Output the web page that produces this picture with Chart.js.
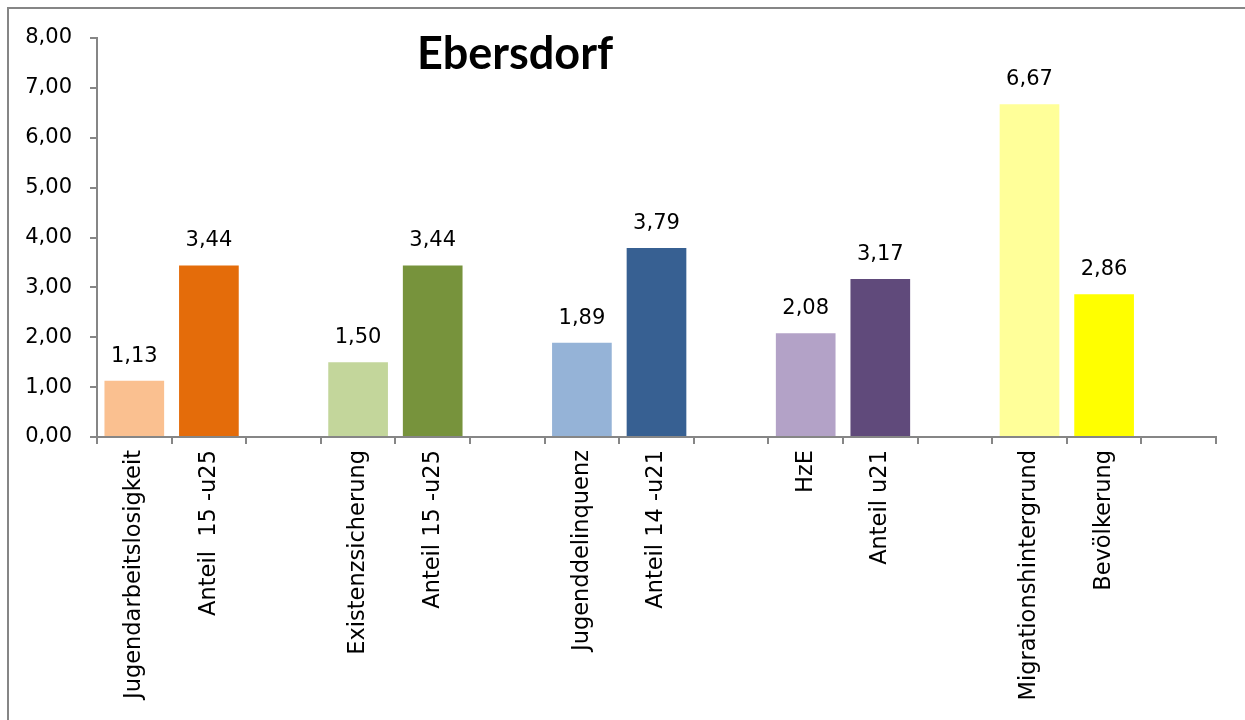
<!DOCTYPE html>
<html>
<head>
<meta charset="utf-8">
<script src="https://cdn.jsdelivr.net/npm/chart.js@4"></script>
<style>
  html, body { margin: 0; padding: 0; background: #fff; overflow: hidden; }
  #wrap { position: relative; width: 1245px; height: 720px; }
  #frame { position: absolute; left: 7px; top: 7px; width: 1300px; height: 800px;
           border-left: 2px solid #868686; border-top: 2px solid #868686; }
  canvas { position: absolute; left: 0; top: 0; }
</style>
</head>
<body>
<div id="wrap">
  <div id="frame"></div>
  <canvas id="chart" width="1245" height="720"></canvas>
</div>
<script>
// Categories (empty slots are the gaps between groups)
const categories = [
  'Jugendarbeitslosigkeit', 'Anteil  15 -u25', '',
  'Existenzsicherung', 'Anteil 15 -u25', '',
  'Jugenddelinquenz', 'Anteil 14 -u21', '',
  'HzE', 'Anteil u21', '',
  'Migrationshintergrund', 'Bevölkerung', ''
];
const values = [1.13, 3.44, null, 1.50, 3.44, null, 1.89, 3.79, null, 2.08, 3.17, null, 6.67, 2.86, null];
const barColors = [
  '#FAC090', '#E46C0A', '#fff',
  '#C3D69B', '#77933C', '#fff',
  '#95B3D7', '#376092', '#fff',
  '#B3A2C7', '#604A7B', '#fff',
  '#FFFF99', '#FFFF00', '#fff'
];
const title = 'Ebersdorf';

const fontFamily = '"DejaVu Sans", sans-serif';
const fmt = v => v.toFixed(2).replace('.', ',');

// value labels above the bars
const valueLabels = {
  id: 'valueLabels',
  afterDatasetsDraw(chart) {
    const ctx = chart.ctx;
    const meta = chart.getDatasetMeta(0);
    ctx.save();
    ctx.font = '21px ' + fontFamily;
    ctx.fillStyle = '#000';
    ctx.textAlign = 'center';
    ctx.textBaseline = 'alphabetic';
    meta.data.forEach((bar, i) => {
      if (values[i] == null) return;
      ctx.fillText(fmt(values[i]), bar.x, bar.y - 19);
    });
    ctx.restore();
  }
};

// title drawn inside the plot area
const titlePlugin = {
  id: 'titleInside',
  afterDraw(chart) {
    const ctx = chart.ctx;
    ctx.save();
    ctx.font = 'bold 45px Lato, sans-serif';
    ctx.fillStyle = '#000';
    ctx.textAlign = 'center';
    ctx.textBaseline = 'alphabetic';
    ctx.fillText(title, 515, 69);
    ctx.restore();
  }
};

new Chart(document.getElementById('chart'), {
  type: 'bar',
  data: {
    labels: categories,
    datasets: [{
      data: values,
      backgroundColor: barColors,
      barPercentage: 0.8,
      categoryPercentage: 1.0
    }]
  },
  options: {
    responsive: false,
    animation: false,
    layout: { padding: { top: 38, right: 29, left: 0, bottom: 0 } },
    plugins: { legend: { display: false }, tooltip: { enabled: false } },
    scales: {
      x: {
        grid: { drawOnChartArea: false, drawTicks: true, tickLength: 7, color: '#868686', lineWidth: 2 },
        border: { display: true, color: '#868686', width: 2 },
        ticks: {
          autoSkip: false, maxRotation: 90, minRotation: 90, padding: 6,
          color: '#000', font: { family: fontFamily, size: 22.5 }
        },
        afterFit(scale) { scale.height = 283; }
      },
      y: {
        min: 0, max: 8,
        grid: { drawOnChartArea: false, drawTicks: true, tickLength: 7, color: '#868686', lineWidth: 2 },
        border: { display: true, color: '#868686', width: 2 },
        ticks: {
          stepSize: 1, padding: 18, color: '#000',
          font: { family: fontFamily, size: 21 },
          callback: v => fmt(v)
        },
        afterFit(scale) { scale.width = 97; }
      }
    }
  },
  plugins: [valueLabels, titlePlugin]
});
</script>
</body>
</html>
